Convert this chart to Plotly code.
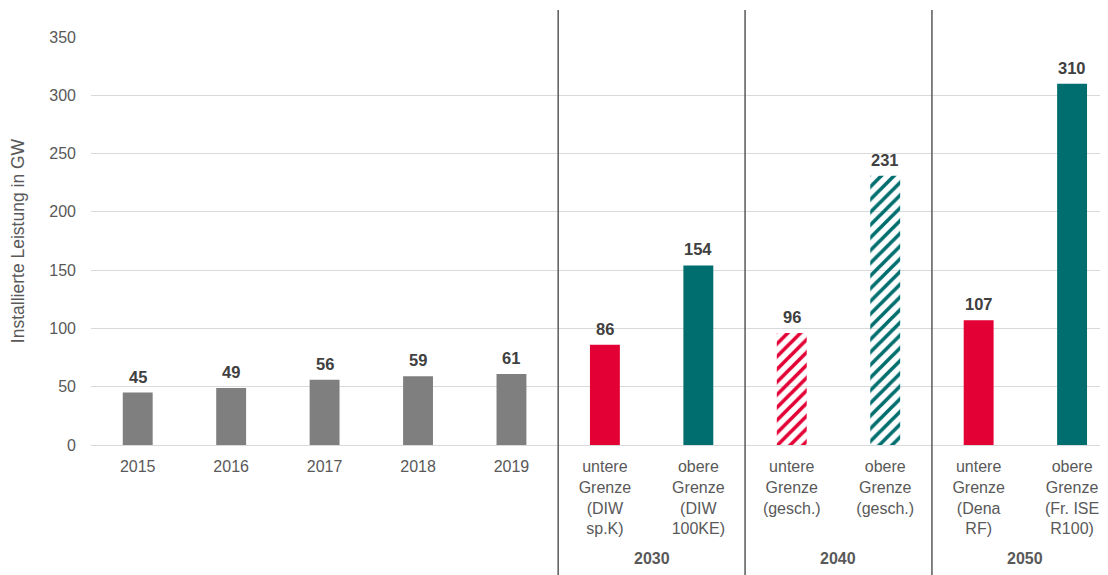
import plotly.graph_objects as go

# Kategorien und Werte
categories = [
    "2015", "2016", "2017", "2018", "2019",
    "untere<br>Grenze<br>(DIW<br>sp.K)",
    "obere<br>Grenze<br>(DIW<br>100KE)",
    "untere<br>Grenze<br>(gesch.)",
    "obere<br>Grenze<br>(gesch.)",
    "untere<br>Grenze<br>(Dena<br>RF)",
    "obere<br>Grenze<br>(Fr. ISE<br>R100)",
]
values = [45, 49, 56, 59, 61, 86, 154, 96, 231, 107, 310]
bar_colors = ["#7f7f7f"] * 5 + ["#e30035", "#006e6e", "#e30035", "#006e6e", "#e30035", "#006e6e"]
hatch = [""] * 7 + ["/", "/"] + ["", ""]

groups = ["2030", "2040", "2050"]
group_centers = [5.5, 7.5, 9.5]
separators = [4.5, 6.5, 8.5]

grey_text = "#595959"

fig = go.Figure()
fig.add_trace(go.Bar(
    x=categories,
    y=values,
    marker=dict(
        color=bar_colors,
        line=dict(width=0),
        pattern=dict(shape=hatch, fgcolor=bar_colors, bgcolor="#ffffff",
                     size=9, solidity=0.4, fillmode="replace"),
    ),
    hoverinfo="skip",
))

# Wertebeschriftungen über den Balken (x als Kategorie-Index, da "2015" sonst als Zahl gelesen wird)
for i, v in enumerate(values):
    fig.add_annotation(x=i, y=v, xref="x", yref="y", yanchor="bottom",
                       yshift=5, text="<b>%d</b>" % v, showarrow=False,
                       font=dict(size=16.5, color="#404040"))

# Trennlinien zwischen den Szenariojahren
for s in separators:
    fig.add_shape(type="line", xref="x", yref="paper",
                  x0=s, x1=s, y0=1.066, y1=-0.33,
                  line=dict(color="#595959", width=1.5))

for g, c in zip(groups, group_centers):
    fig.add_annotation(x=c, xref="x", y=-0.275, yref="paper", yshift=-12,
                       text="<b>%s</b>" % g, showarrow=False,
                       font=dict(size=16, color=grey_text))

fig.update_layout(
    width=1108, height=575,
    margin=dict(l=83, r=0, t=29, b=138),
    plot_bgcolor="white",
    paper_bgcolor="white",
    font=dict(family="Liberation Sans, Arial", size=16, color=grey_text),
    bargap=0.68,
    showlegend=False,
    xaxis=dict(
        type="category",
        range=[-0.5, 10.47],
        automargin=False,
        showgrid=False,
        showline=False,
        ticks="",
        ticklabelstandoff=10,
        tickfont=dict(size=16, color=grey_text),
        tickangle=0,
    ),
    yaxis=dict(
        range=[0, 350],
        dtick=50,
        automargin=False,
        showgrid=True,
        gridcolor="#d9d9d9",
        gridwidth=1,
        zeroline=True,
        zerolinecolor="#d9d9d9",
        zerolinewidth=1,
        showline=False,
        ticks="",
        ticklabelstandoff=14,
        tickfont=dict(size=16, color=grey_text),
        title=dict(text="Installierte Leistung in GW",
                   font=dict(size=17.5, color=grey_text), standoff=22),
    ),
)

fig.write_html("out.html")
